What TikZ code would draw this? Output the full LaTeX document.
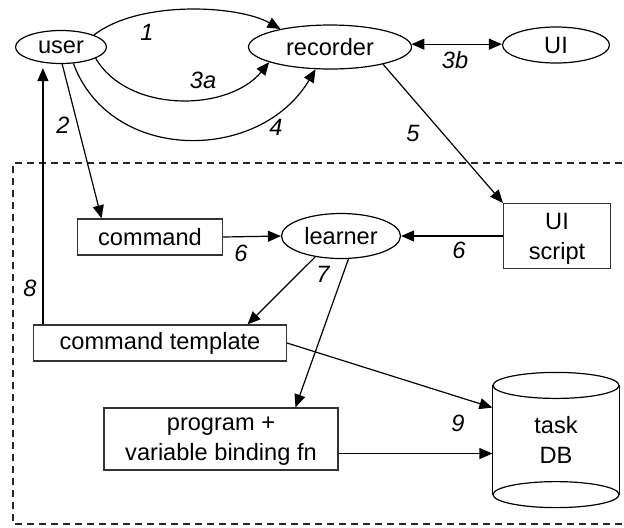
\documentclass[tikz,border=0pt]{standalone}
\usepackage{fontspec}
\setmainfont{Liberation Sans}
\usetikzlibrary{arrows.meta,shapes.geometric}
\begin{document}
\begin{tikzpicture}[x=0.5pt,y=-0.5pt, line width=0.6pt,
  every node/.style={font=\fontsize{11.8}{15}\selectfont},
  ell/.style={draw, ellipse, inner sep=0pt},
  box/.style={draw=black!80, rectangle, inner sep=0pt, align=center},
  lowtext/.style={text depth=-2pt},
  lbl/.style={font=\fontsize{11.8}{15}\selectfont\itshape, inner sep=0pt},
  arr/.style={-{Triangle[length=6.5pt,width=5.5pt]}},
  darr/.style={{Triangle[length=6.5pt,width=5.5pt]}-{Triangle[length=6.5pt,width=5.5pt]}},
  grp/.style={dashed, dash pattern=on 3.5pt off 2.5pt, draw=black!85}]
\useasboundingbox (0,0) rectangle (624,527);

% dashed group frame
\draw[grp] (622,163) -- (13,163) -- (13,524) -- (622,524);

% nodes
\node[ell, minimum width=45.5pt, minimum height=16.5pt] (user) at (61,47) {user};
\node[ell, minimum width=81.5pt, minimum height=22pt] (recorder) at (330,47) {recorder};
\node[ell, minimum width=53.5pt, minimum height=18pt] (UI) at (556,45) {UI};
\node[box, minimum width=72.5pt, minimum height=18pt] (command) at (150,237) {command};
\node[ell, minimum width=59.5pt, minimum height=22.5pt] (learner) at (341,236) {learner};
\node[box, lowtext, minimum width=53.5pt, minimum height=32.5pt] (uiscript) at (557,236) {UI\\script};
\node[box, minimum width=126.5pt, minimum height=18pt] (cmdtpl) at (160,343) {command template};
\node[box, lowtext, minimum width=117pt, minimum height=31pt] (program) at (221,439) {program +\\variable binding fn};
\node[box, draw=none, minimum width=63pt, minimum height=67pt] (db) at (556,440) {task\\DB};

% cylinder outline of the task DB
\draw ([yshift=-6.5pt]db.north west) -- ([yshift=6.5pt]db.south west);
\draw ([yshift=-6.5pt]db.north east) -- ([yshift=6.5pt]db.south east);
\draw ([yshift=-6.5pt]db.north) ellipse [x radius=31.5pt, y radius=6.5pt];
\draw ([yshift=6.5pt]db.south) ellipse [x radius=31.5pt, y radius=6.5pt];

% connectors
\draw[arr] (user.20) .. controls +(45,-35) and +(-43,-24) .. (recorder.160);
\draw[arr] (user.-18) .. controls +(32,55) and +(-41,50) .. (recorder.194);
\draw[arr] (user.-53) .. controls +(37,100) and +(-56,94) .. (recorder.237);
\draw[darr] (recorder.2) -- (recorder.2 -| UI.west);
\draw[arr] (user.-86) -- (command.159);
\coordinate (p8) at ([xshift=5pt]cmdtpl.north west);
\draw[arr, shorten >=2pt] (p8) -- (p8 |- user.south);
\draw[arr] (recorder.-18) -- (uiscript.north west);
\draw[arr] (command.east) -- (learner.west);
\draw[arr] (uiscript.west) -- (learner.east);
\draw[arr] (learner.219) -- (cmdtpl.12);
\draw[arr] (learner.288) -- (program.23);
\draw[arr] (cmdtpl.east) -- (db.153);
\draw[arr] (db.192 -| program.east) -- (db.192);

% labels
\node[lbl] (l1) at (147,32) {1};
\node[lbl] (l3a) at (203,80) {3a};
\node[lbl] (l4) at (276,127) {4};
\node[lbl] (l3b) at (455,60) {3b};
\node[lbl] (l5) at (413,133) {5};
\node[lbl] (l2) at (63,125) {2};
\node[lbl] (l8) at (30,288) {8};
\node[lbl] (l6a) at (241,253) {6};
\node[lbl] (l6b) at (459,250) {6};
\node[lbl] (l7) at (323,274) {7};
\node[lbl] (l9) at (458,423) {9};
\end{tikzpicture}
\end{document}
